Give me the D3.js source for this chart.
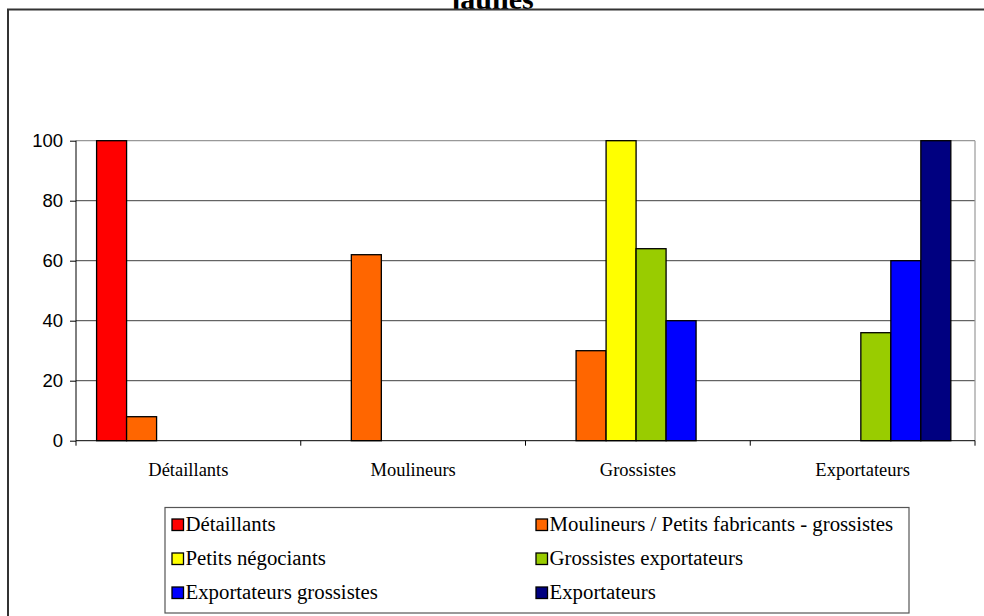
<!DOCTYPE html>
<html>
<head>
<meta charset="utf-8">
<script src="https://cdn.jsdelivr.net/npm/d3@7"></script>
<style>
  html, body { margin: 0; padding: 0; background: #fff; }
  svg { display: block; }
  .serif { font-family: "Liberation Serif", "Times New Roman", Times, "DejaVu Serif", serif; }
  .sans { font-family: "Liberation Sans", Arial, Helvetica, sans-serif; }
</style>
</head>
<body>
<svg id="chart" width="984" height="616"></svg>
<script>
const categories = ["Détaillants", "Moulineurs", "Grossistes", "Exportateurs"];
const seriesNames = ["Détaillants", "Moulineurs / Petits fabricants - grossistes", "Petits négociants", "Grossistes exportateurs", "Exportateurs grossistes", "Exportateurs"];
const seriesColors = ["#FF0000", "#FF6600", "#FFFF00", "#99CC00", "#0000FF", "#000080"];
const detaillants = [100, 0, 0, 0];
const moulineurs = [8, 62, 30, 0];
const petitsNegociants = [0, 0, 100, 0];
const grossistesExportateurs = [0, 0, 64, 36];
const exportateursGrossistes = [0, 0, 40, 60];
const exportateurs = [0, 0, 0, 100];
const yTicks = [0, 20, 40, 60, 80, 100];
const titleText = "jaunes";

const seriesValues = [detaillants, moulineurs, petitsNegociants, grossistesExportateurs, exportateursGrossistes, exportateurs];

const svg = d3.select("#chart");
const plot = { left: 76, right: 975, top: 140.7, bottom: 440.7 };

// title (partially hidden by the chart area)
svg.append("text")
  .attr("class", "serif")
  .attr("x", 492).attr("y", 8.5)
  .attr("text-anchor", "middle")
  .attr("font-weight", "bold")
  .attr("font-size", 30)
  .attr("fill", "#000")
  .text(titleText);

// chart area
svg.append("rect")
  .attr("x", 8).attr("y", 9.5)
  .attr("width", 1000).attr("height", 620)
  .attr("fill", "#fff")
  .attr("stroke", "#333").attr("stroke-width", 2);

const x0 = d3.scaleBand().domain(categories).range([plot.left, plot.right]).paddingInner(0).paddingOuter(0);
const x1 = d3.scaleBand().domain(d3.range(seriesNames.length)).range([0, x0.bandwidth()])
  .paddingInner(0).paddingOuter(0.746).align(0.46);
const y = d3.scaleLinear().domain([0, 100]).range([plot.bottom, plot.top]);

// gridlines
svg.append("g").selectAll("line").data(yTicks.filter(t => t > 0 && t < 100)).join("line")
  .attr("x1", plot.left).attr("x2", plot.right)
  .attr("y1", d => y(d)).attr("y2", d => y(d))
  .attr("stroke", "#404040").attr("stroke-width", 1);

// plot border top and right
svg.append("line").attr("x1", plot.left).attr("x2", plot.right).attr("y1", y(100)).attr("y2", y(100))
  .attr("stroke", "#999").attr("stroke-width", 1.2);
svg.append("line").attr("x1", plot.right).attr("x2", plot.right).attr("y1", plot.top).attr("y2", plot.bottom)
  .attr("stroke", "#999").attr("stroke-width", 1.2);

// bars
const barData = [];
seriesValues.forEach((vals, si) => {
  vals.forEach((v, ci) => {
    if (v > 0) barData.push({ si, cat: categories[ci], v });
  });
});
svg.append("g").selectAll("rect").data(barData).join("rect")
  .attr("x", d => x0(d.cat) + x1(d.si))
  .attr("y", d => y(d.v))
  .attr("width", x1.bandwidth())
  .attr("height", d => y(0) - y(d.v))
  .attr("fill", d => seriesColors[d.si])
  .attr("stroke", "#000").attr("stroke-width", 1.3);

// y axis
const yAxis = d3.axisLeft(y).tickValues(yTicks).tickSize(6).tickPadding(7).tickFormat(d3.format("d"));
const yg = svg.append("g").attr("transform", `translate(${plot.left},0)`).call(yAxis);
yg.attr("font-family", null).attr("font-size", null);
yg.select(".domain").attr("stroke", "#000").attr("d", `M-0,${plot.top}V${plot.bottom}`);
yg.selectAll(".tick line").attr("stroke", "#000");
yg.selectAll("text")
  .attr("class", "sans")
  .attr("font-size", 18.5).attr("fill", "#000");

// x axis
const xg = svg.append("g").attr("transform", `translate(0,${plot.bottom})`);
xg.append("line").attr("x1", plot.left).attr("x2", plot.right).attr("stroke", "#000");
const bounds = categories.map(c => x0(c)).concat([plot.right]);
xg.selectAll("line.tk").data(bounds).join("line").attr("class", "tk")
  .attr("x1", d => d).attr("x2", d => d).attr("y1", 0).attr("y2", 5).attr("stroke", "#000");
xg.selectAll("text").data(categories).join("text")
  .attr("class", "serif")
  .attr("x", d => x0(d) + x0.bandwidth() / 2)
  .attr("y", 35)
  .attr("text-anchor", "middle")
  .attr("font-size", 18.5).attr("fill", "#000")
  .text(d => d);

// legend
const legend = svg.append("g");
legend.append("rect").attr("x", 165).attr("y", 507.5).attr("width", 744).attr("height", 105.5)
  .attr("fill", "#fff").attr("stroke", "#555").attr("stroke-width", 1.2);
const colX = [172, 536];
const rowY = [531, 565, 599];
const items = legend.selectAll("g.item").data(seriesNames).join("g").attr("class", "item")
  .attr("transform", (d, i) => `translate(${colX[i % 2]},${rowY[Math.floor(i / 2)]})`);
items.append("rect").attr("x", 0).attr("y", -12).attr("width", 11.5).attr("height", 11.5)
  .attr("fill", (d, i) => seriesColors[i]).attr("stroke", "#000").attr("stroke-width", 1.3);
items.append("text").attr("x", 13.5).attr("y", 0)
  .attr("class", "serif")
  .attr("font-size", 20.8).attr("fill", "#000")
  .text(d => d);
</script>
</body>
</html>
